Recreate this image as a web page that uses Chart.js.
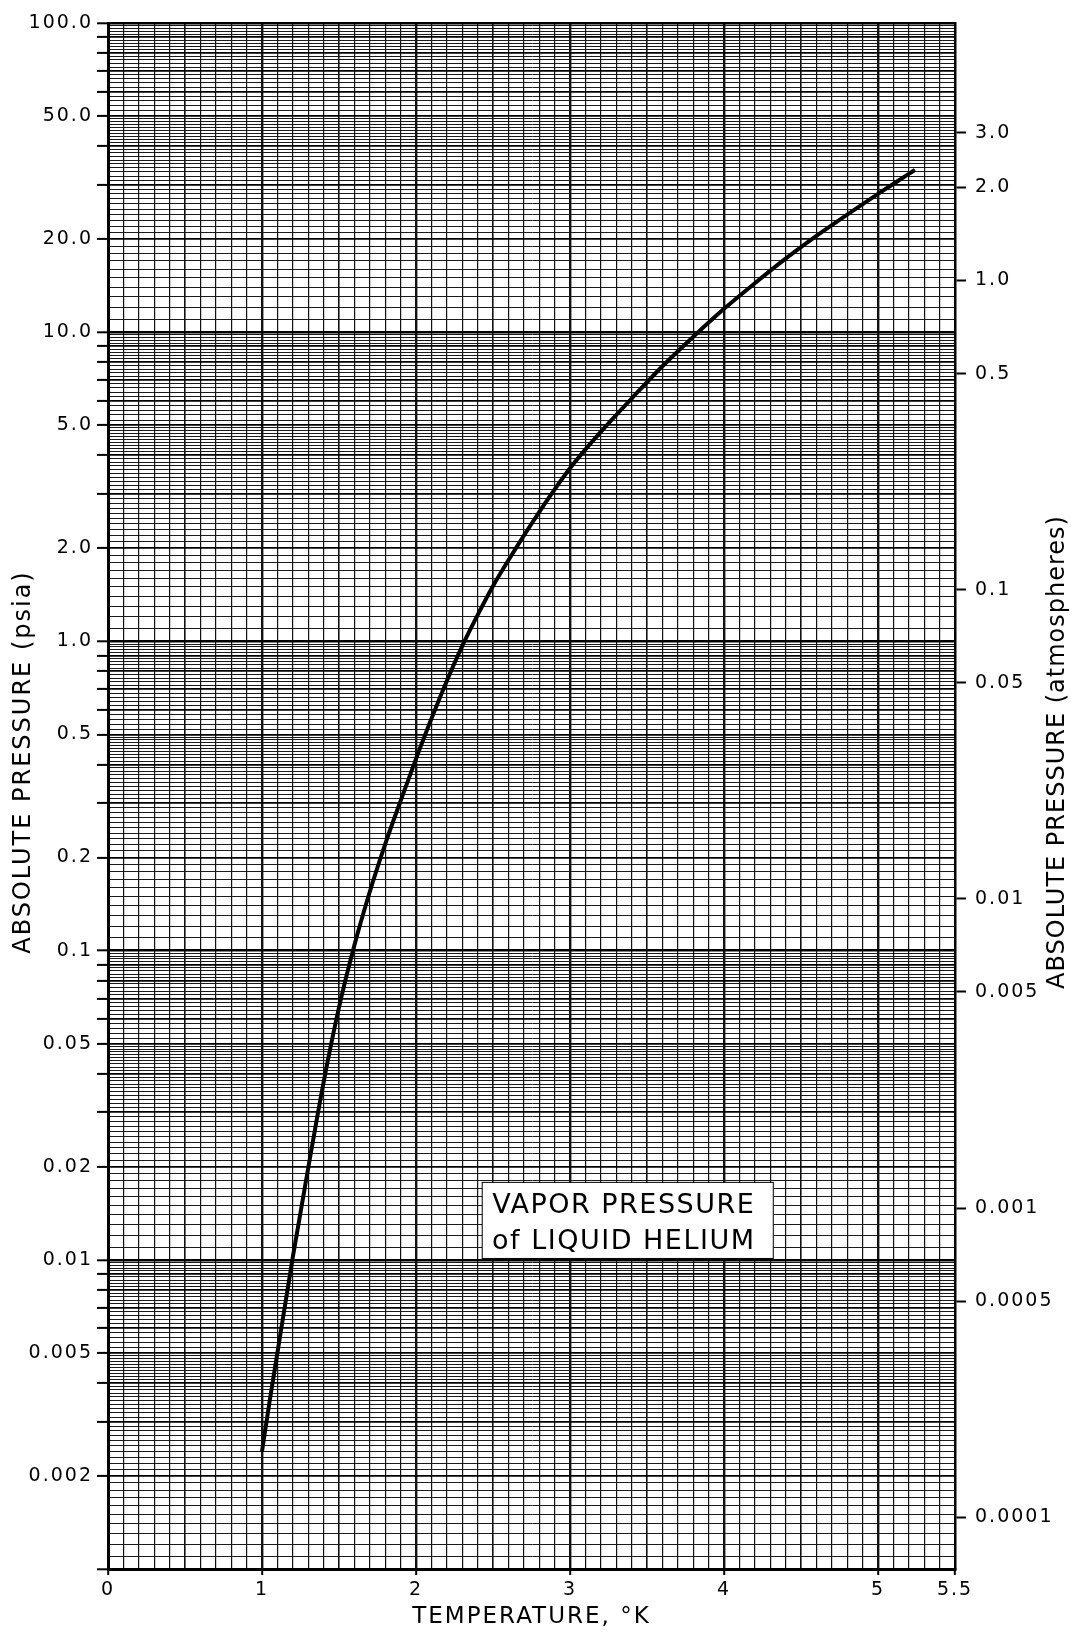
<!DOCTYPE html>
<html>
<head>
<meta charset="utf-8">
<title>Vapor pressure of liquid helium</title>
<script src="https://cdn.jsdelivr.net/npm/chart.js@4.4.1/dist/chart.umd.min.js"></script>
<style>
    html, body { margin: 0; padding: 0; background: #fff; }
    canvas { display: block; }
</style>
</head>
<body>
<canvas id="heChart" width="1073" height="1632"></canvas>
<script>
// curve: temperature (K) vs absolute pressure (psia)
const temps = [1.0, 1.05, 1.1, 1.2, 1.3, 1.4, 1.5, 1.6, 1.7, 1.8, 1.9, 2.0, 2.1, 2.2, 2.3, 2.4, 2.5, 2.6, 2.8, 3.0, 3.2, 3.4, 3.6, 3.8, 4.0, 4.2, 4.4, 4.6, 4.8, 5.0, 5.2, 5.24];
const psia = [0.0024, 0.0035, 0.0050, 0.0102, 0.0198, 0.0375, 0.0655, 0.104, 0.155, 0.221, 0.305, 0.417, 0.562, 0.745, 0.966, 1.216, 1.51, 1.83, 2.62, 3.63, 4.76, 6.1, 7.76, 9.66, 11.9, 14.4, 17.3, 20.5, 24.0, 28.0, 32.5, 33.5];

// left axis, psia
const psiTickValues = [0.002, 0.005, 0.01, 0.02, 0.05, 0.1, 0.2, 0.5, 1, 2, 5, 10, 20, 50, 100];
const psiTickLabels = ['0.002', '0.005', '0.01', '0.02', '0.05', '0.1', '0.2', '0.5', '1.0', '2.0', '5.0', '10.0', '20.0', '50.0', '100.0'];

// right axis, atmospheres
const atmTickValues = [0.0001, 0.0005, 0.001, 0.005, 0.01, 0.05, 0.1, 0.5, 1, 2, 3];
const atmTickLabels = ['0.0001', '0.0005', '0.001', '0.005', '0.01', '0.05', '0.1', '0.5', '1.0', '2.0', '3.0'];

// temperature axis
const tempTickValues = [0, 1, 2, 3, 4, 5, 5.5];
const tempTickLabels = ['0', '1', '2', '3', '4', '5', '5.5'];

const PSI_PER_ATM = 14.696;
const psiMin = 0.001;
const psiMax = 100;
const FONT = 'DejaVu Sans';

// log paper rulings: 1-5 by 0.1, 5-10 by 0.2 in every cycle
var psiGrid = [];
for (var d = -3; d < 2; d++) {
    var base = Math.pow(10, d);
    for (var k = 10; k < 100; k += (k < 50 ? 1 : 2)) {
        psiGrid.push({ value: (k / 10) * base, kind: k === 10 ? 2 : (k % 10 === 0 ? 1 : 0) });
    }
}
psiGrid.push({ value: psiMax, kind: 2 });

// temperature rulings every 0.1
var tempGrid = [];
for (var i = 0; i <= 55; i++) tempGrid.push(i / 10);

function findLabel(v, values, labels) {
    for (var j = 0; j < values.length; j++) {
        if (Math.abs(v / values[j] - 1) < 1e-6 || (values[j] === 0 && Math.abs(v) < 1e-9)) return labels[j];
    }
    return '';
}

function gridKind(ctx) {
    var g = psiGrid[ctx.index];
    return g ? g.kind : 0;
}

function tempKind(ctx) {
    var i = ctx.index;
    if (i === undefined) return 0;
    if (i % 10 === 0) return 2;
    if (i % 5 === 0) return 1;
    return 0;
}

const paperExtras = {
    id: 'paperExtras',
    beforeDraw: function (chart) {
        var c = chart.ctx;
        c.save();
        c.fillStyle = '#fff';
        c.fillRect(0, 0, chart.width, chart.height);
        c.restore();
        // the hand lettering is widely spaced
        c.letterSpacing = '2px';
    },
    afterDraw: function (chart) {
        var c = chart.ctx;
        var xs = chart.scales.x, ys = chart.scales.y;
        var area = chart.chartArea;

        // title box
        var bx0 = xs.getPixelForValue(2.43), bx1 = xs.getPixelForValue(4.32);
        var by0 = ys.getPixelForValue(0.0178), by1 = ys.getPixelForValue(0.0101);
        c.save();
        c.fillStyle = '#fff';
        c.fillRect(bx0, by0, bx1 - bx0, by1 - by0);
        c.strokeStyle = '#000';
        c.lineWidth = 1;
        c.strokeRect(bx0, by0, bx1 - bx0, by1 - by0);
        c.fillStyle = '#000';
        c.font = '27px "' + FONT + '"';
        c.letterSpacing = '1.5px';
        c.textAlign = 'center';
        c.textBaseline = 'alphabetic';
        var cx = (bx0 + bx1) / 2 - 4;
        c.fillText('VAPOR PRESSURE', cx, by0 + 31);
        c.fillText('of LIQUID HELIUM', cx, by0 + 67);
        c.restore();

        // vertical axis titles, both read bottom to top
        c.save();
        c.fillStyle = '#000';
        c.font = '24px "' + FONT + '"';
        c.textAlign = 'center';
        c.textBaseline = 'middle';
        c.letterSpacing = '2px';
        c.translate(area.left - 84, 762);
        c.rotate(-Math.PI / 2);
        c.fillText('ABSOLUTE PRESSURE (psia)', 0, 0);
        c.restore();

        c.save();
        c.fillStyle = '#000';
        c.font = '24px "' + FONT + '"';
        c.textAlign = 'center';
        c.textBaseline = 'middle';
        c.letterSpacing = '1px';
        c.translate(area.right + 103, 752);
        c.rotate(-Math.PI / 2);
        c.fillText('ABSOLUTE PRESSURE (atmospheres)', 0, 0);
        c.restore();
    }
};

new Chart(document.getElementById('heChart'), {
    type: 'line',
    data: {
        datasets: [{
            label: 'Vapor pressure',
            data: temps.map(function (t, i) { return { x: t, y: psia[i] }; }),
            borderColor: '#000',
            borderWidth: 4,
            pointRadius: 0,
            fill: false,
            cubicInterpolationMode: 'monotone',
            xAxisID: 'x',
            yAxisID: 'y'
        }]
    },
    options: {
        responsive: false,
        animation: false,
        devicePixelRatio: 1,
        layout: { padding: { top: 23, left: 0, right: 0, bottom: 0 } },
        plugins: {
            legend: { display: false },
            tooltip: { enabled: false }
        },
        scales: {
            x: {
                type: 'linear',
                min: 0,
                max: 5.5,
                afterBuildTicks: function (scale) {
                    scale.ticks = tempGrid.map(function (v) { return { value: v }; });
                },
                afterFit: function (scale) { scale.height = 63; },
                grid: {
                    color: '#111',
                    lineWidth: function (ctx) { return [1.2, 1.6, 2.4][tempKind(ctx)]; },
                    tickLength: 6,
                    tickWidth: 2,
                    tickColor: function (ctx) {
                        return findLabel(tempGrid[ctx.index], tempTickValues, tempTickLabels) !== '' ? '#000' : 'rgba(0,0,0,0)';
                    }
                },
                border: { color: '#000', width: 3 },
                ticks: {
                    autoSkip: false,
                    maxRotation: 0,
                    padding: 4,
                    color: '#000',
                    font: { family: FONT, size: 19 },
                    callback: function (v, i) { return findLabel(tempGrid[i], tempTickValues, tempTickLabels); }
                },
                title: {
                    display: true,
                    text: 'TEMPERATURE, °K',
                    color: '#000',
                    font: { family: FONT, size: 23 },
                    padding: { top: 0, bottom: 1 }
                }
            },
            y: {
                type: 'logarithmic',
                position: 'left',
                min: psiMin,
                max: psiMax,
                afterBuildTicks: function (scale) {
                    scale.ticks = psiGrid.map(function (g) { return { value: g.value }; });
                },
                afterFit: function (scale) { scale.width = 108; },
                grid: {
                    color: function (ctx) { return gridKind(ctx) ? '#000' : '#1a1a1a'; },
                    lineWidth: function (ctx) { return [1, 1.8, 2.6][gridKind(ctx)]; },
                    tickLength: 11,
                    tickWidth: 2,
                    tickColor: function (ctx) { return gridKind(ctx) ? '#000' : 'rgba(0,0,0,0)'; }
                },
                border: { color: '#000', width: 3 },
                ticks: {
                    autoSkip: false,
                    padding: 4,
                    color: '#000',
                    font: { family: FONT, size: 19 },
                    callback: function (v, i) { return findLabel(psiGrid[i].value, psiTickValues, psiTickLabels); }
                }
            },
            y2: {
                type: 'logarithmic',
                position: 'right',
                min: psiMin / PSI_PER_ATM,
                max: psiMax / PSI_PER_ATM,
                afterBuildTicks: function (scale) {
                    scale.ticks = atmTickValues.map(function (v) { return { value: v }; });
                },
                afterFit: function (scale) { scale.width = 118; },
                grid: {
                    drawOnChartArea: false,
                    tickLength: 11,
                    tickWidth: 2,
                    tickColor: '#000'
                },
                border: { color: '#000', width: 2.5 },
                ticks: {
                    autoSkip: false,
                    padding: 9,
                    color: '#000',
                    font: { family: FONT, size: 19 },
                    callback: function (v, i) { return atmTickLabels[i]; }
                }
            }
        }
    },
    plugins: [paperExtras]
});
</script>
</body>
</html>
